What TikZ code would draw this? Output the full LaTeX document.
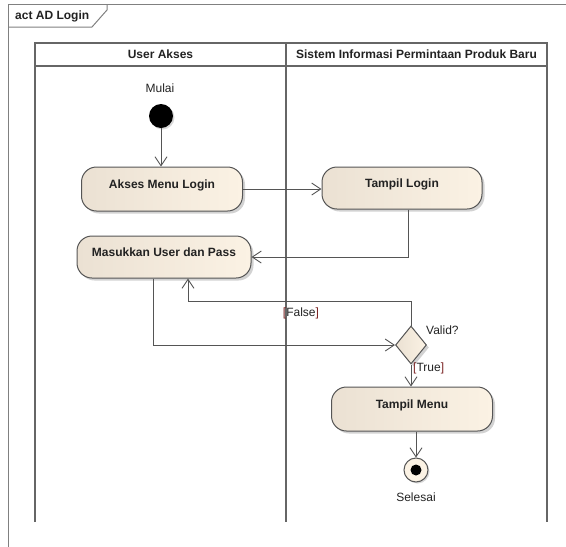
\documentclass[tikz,border=0pt]{standalone}
\usepackage{fontspec}
\setmainfont{Liberation Sans}
\usetikzlibrary{arrows.meta,shapes.geometric,shadows}
\definecolor{linec}{HTML}{555555}
\definecolor{framec}{HTML}{808080}
\definecolor{fillL}{HTML}{EBE1D3}
\definecolor{fillR}{HTML}{FBF2E4}
\definecolor{txtc}{HTML}{222222}
\definecolor{brk}{HTML}{7A2323}
\tikzset{
  act/.style={draw=linec, line width=1pt, rounded corners=15pt, left color=fillL, right color=fillR,
    drop shadow={shadow xshift=2.5pt, shadow yshift=-2.5pt, fill=black!35},
    font=\fontsize{12}{14}\selectfont\bfseries, text=txtc, inner sep=0pt,
    text height=9pt, text depth=11pt},
  flow/.style={draw=linec, line width=0.9pt, -{Straight Barb[length=9pt,width=12pt,line width=0.9pt]}},
  lane/.style={draw=framec!80!black, line width=1.3pt},
  lbl/.style={font=\fontsize{12}{14}\selectfont, text=txtc, inner sep=0pt},
}
\begin{document}
\begin{tikzpicture}[x=1pt,y=-1pt]
\useasboundingbox (0,0) rectangle (566,547);
% frame
\draw[framec, line width=1pt] (566,4) -- (8,4) -- (8,547);
\draw[framec, line width=1pt] (8,27) -- (92,27) -- (107,10) -- (107,4);
\node[lbl, font=\fontsize{12}{14}\selectfont\bfseries, anchor=west] (title) at (15,16) {act AD Login};
% lanes
\draw[lane] (35,522) -- (35,43) -- (547,43) -- (547,522);
\draw[lane] (35,66) -- (547,66);
\draw[lane] (286,43) -- (286,522);
\node[lbl, font=\fontsize{12}{14}\selectfont\bfseries] (lane1) at (160.5,54.5) {User Akses};
\node[lbl, font=\fontsize{12}{14}\selectfont\bfseries] (lane2) at (416.5,54.5) {Sistem Informasi Permintaan Produk Baru};
% nodes
\node[lbl] (mulai) at (160,88) {Mulai};
\node[circle, fill=black, minimum size=24pt, inner sep=0pt,
  drop shadow={shadow xshift=1.5pt, shadow yshift=-1.5pt, fill=black!30}] (start) at (161,116) {};
\node[act, minimum width=161pt, minimum height=44pt] (akses) at (162,189) {Akses Menu Login};
\node[act, minimum width=160pt, minimum height=42pt] (tlogin) at (402,188) {Tampil Login};
\node[act, minimum width=174pt, minimum height=42pt] (masuk) at (164,257) {Masukkan User dan Pass};
\node[diamond, draw=linec, line width=1pt, left color=fillL, right color=fillR, aspect=0.8,
  minimum width=31pt, minimum height=38pt, inner sep=0pt,
  drop shadow={shadow xshift=2.5pt, shadow yshift=-2.5pt, fill=black!35}] (valid) at (411,345) {};
\node[act, minimum width=161pt, minimum height=44pt] (tmenu) at (412,409) {Tampil Menu};
\node[circle, draw=linec, line width=1pt, fill=fillR, minimum size=24pt, inner sep=0pt,
  drop shadow={shadow xshift=1.5pt, shadow yshift=-1.5pt, fill=black!30}] (end) at (416,470) {};
\node[circle, fill=black, minimum size=11pt, inner sep=0pt] (endin) at (end.center) {};
\node[lbl] (selesai) at (416,497) {Selesai};
% labels
\node[lbl, anchor=west] (validq) at (426,330) {Valid?};
\node[lbl] (false) at (301,313) {\textcolor{brk}{[}False\textcolor{brk}{]}};
\node[lbl, anchor=west] (true) at (413,368) {\textcolor{brk}{[}True\textcolor{brk}{]}};
% connectors
\draw[flow] (start.south) -- (start |- akses.north);
\draw[flow] (akses.east) -- (tlogin.west |- akses.east);
\draw[flow] ([xshift=6pt]tlogin.south) |- (masuk.east);
\draw[flow] ([xshift=-11pt]masuk.south) |- (valid.west);
\coordinate (fturn) at (411,301);
\draw[flow] (valid.north) -- (fturn) -| ([xshift=24pt]masuk.south);
\draw[flow] (valid.south) -- (valid.south |- tmenu.north);
\draw[flow] (end |- tmenu.south) -- (end.north);
\end{tikzpicture}
\end{document}
